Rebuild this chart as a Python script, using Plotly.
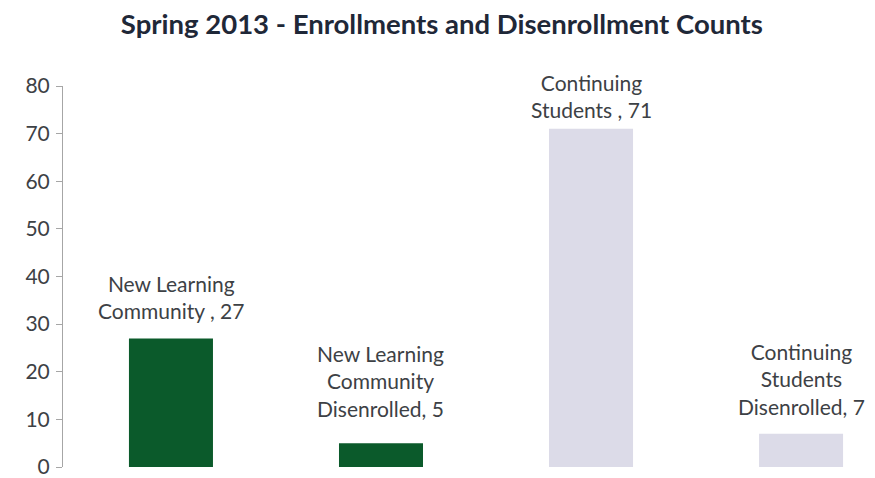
import plotly.graph_objects as go

categories = ["New Learning Community", "New Learning Community Disenrolled",
              "Continuing Students", "Continuing Students Disenrolled"]
values = [27, 5, 71, 7]
labels = ["New Learning<br>Community , 27",
          "New Learning<br>Community<br>Disenrolled, 5",
          "Continuing<br>Students , 71",
          "Continuing<br>Students<br>Disenrolled, 7"]
colors = ["#0b5a2b", "#0b5a2b", "#dcdbe8", "#dcdbe8"]
y_ticks = [0, 10, 20, 30, 40, 50, 60, 70, 80]

# label offsets above each bar (pixels) -- layout only
label_shift = [13, 20, 5, 13]

FONT = "Lato, Carlito, sans-serif"

fig = go.Figure(go.Bar(
    x=categories, y=values,
    marker=dict(color=colors, line=dict(width=0)),
    hoverinfo="x+y",
))

for cat, val, lab, sh in zip(categories, values, labels, label_shift):
    fig.add_annotation(x=cat, y=val, text=lab, showarrow=False,
                       xanchor="center", yanchor="bottom", yshift=sh,
                       align="center",
                       font=dict(family=FONT, size=21, color="#3d4145"))

fig.update_layout(
    width=875, height=478,
    margin=dict(l=63, r=0, t=86, b=1),
    paper_bgcolor="white", plot_bgcolor="white",
    bargap=0.6, showlegend=False,
    title=dict(text="<b>Spring 2013 - Enrollments and Disenrollment Counts</b>",
               x=0.505, xanchor="center", xref="container", y=0.95, yanchor="middle",
               font=dict(family=FONT, size=27.5, color="#1f2838")),
    xaxis=dict(range=[-0.514, 3.352], showticklabels=False, showline=False,
               showgrid=False, zeroline=False, ticks=""),
    yaxis=dict(range=[0, 80], tickvals=y_ticks, showgrid=False, zeroline=False,
               showline=True, linecolor="#a6a6a6", linewidth=1,
               ticks="outside", ticklen=6, tickcolor="#a6a6a6",
               ticklabelstandoff=2, ticklabeloverflow="allow",
               tickfont=dict(family=FONT, size=21, color="#3d4145")),
)

fig.write_html("out.html")
